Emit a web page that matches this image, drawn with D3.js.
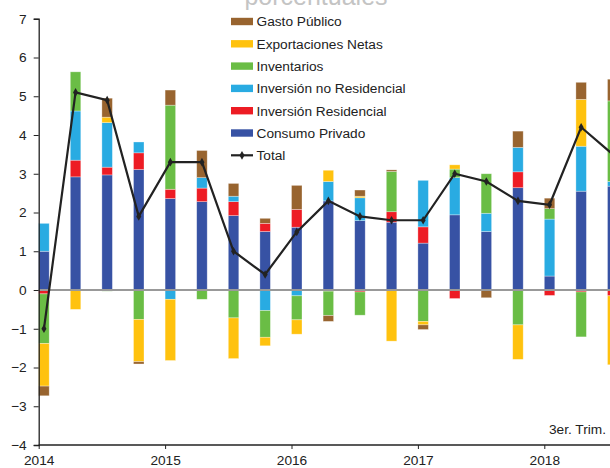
<!DOCTYPE html>
<html>
<head>
<meta charset="utf-8">
<script src="https://cdn.jsdelivr.net/npm/d3@7"></script>
<style>
  body { margin: 0; background: #fff; }
  svg { display: block; font-family: "Liberation Sans", Arial, sans-serif; }
</style>
</head>
<body>
<svg id="chart" width="610" height="468"></svg>
<script>
// trimestres 2014T1 .. 2018T3
const periods = ["2014-1","2014-2","2014-3","2014-4","2015-1","2015-2","2015-3","2015-4",
                 "2016-1","2016-2","2016-3","2016-4","2017-1","2017-2","2017-3","2017-4",
                 "2018-1","2018-2","2018-3"];

const consumo       = [1.00, 2.92, 2.97, 3.11, 2.36, 2.28, 1.92, 1.51, 1.62, 2.30, 1.79, 1.75, 1.21, 1.94, 1.51, 2.64, 0.36, 2.55, 2.68];
const invResid      = [-0.10, 0.43, 0.20, 0.43, 0.24, 0.35, 0.36, 0.21, 0.46, -0.03, -0.05, 0.27, 0.42, -0.22, 0.00, 0.41, -0.14, -0.05, -0.15];
const invNoResid    = [0.72, 1.27, 1.15, 0.28, -0.24, 0.27, 0.14, -0.53, -0.15, 0.50, 0.59, 0.00, 1.20, 0.96, 0.47, 0.63, 1.47, 1.16, 0.12];
const inventarios   = [-1.28, 1.01, -0.03, -0.76, 2.17, -0.24, -0.72, -0.69, -0.62, -0.63, -0.60, 1.04, -0.81, 0.22, 1.02, -0.90, 0.27, -1.16, 2.08];
const exportaciones = [-1.10, -0.50, 0.14, -1.09, -1.58, 0.00, -1.05, -0.22, -0.37, 0.29, 0.04, -1.32, -0.09, 0.11, 0.00, -0.89, 0.00, 1.21, -1.78];
const gasto         = [-0.25, 0.00, 0.49, -0.06, 0.39, 0.70, 0.33, 0.13, 0.62, -0.15, 0.16, 0.04, -0.12, 0.00, -0.20, 0.42, 0.27, 0.44, 0.56];
const total         = [-1.0, 5.1, 4.9, 1.9, 3.3, 3.3, 1.0, 0.4, 1.5, 2.3, 1.9, 1.8, 1.8, 3.0, 2.8, 2.3, 2.2, 4.2, 3.5];

const seriesNames = ["Consumo Privado", "Inversión Residencial", "Inversión no Residencial",
                     "Inventarios", "Exportaciones Netas", "Gasto Público"];
const seriesValues = [consumo, invResid, invNoResid, inventarios, exportaciones, gasto];
const colors = ["#3752a4", "#ed1c24", "#29abe2", "#6abd45", "#ffc20e", "#98642f"];

const yTicks = [-4, -3, -2, -1, 0, 1, 2, 3, 4, 5, 6, 7];
const yearTicks = [2014, 2015, 2016, 2017, 2018];

const svg = d3.select("#chart");
const barW = 10.5;
const fs = 13.7;

const rows = periods.map((p, i) => {
    const [yr, q] = p.split("-").map(Number);
    const r = {t: yr + (q - 1) / 4, total: total[i]};
    seriesNames.forEach((k, j) => r[k] = seriesValues[j][i]);
    return r;
});

const x = d3.scaleLinear().domain([2014, 2018]).range([38.7, 544.3]);
const y = d3.scaleLinear().domain([-4, 7]).range([445, 18.75]);

// titulo (cortado arriba como en el original)
svg.append("text")
    .attr("x", 316).attr("y", 5)
    .attr("text-anchor", "middle")
    .attr("font-size", 25)
    .attr("fill", "#c4c4c4")
    .text("porcentuales");

const stacked = d3.stack().keys(seriesNames).offset(d3.stackOffsetDiverging)(rows);

const gBars = svg.append("g");
stacked.forEach((s, j) => {
    gBars.append("g")
        .attr("fill", colors[j])
        .selectAll("rect")
        .data(s.filter(d => d[1] !== d[0]))
        .join("rect")
        .attr("x", d => x(d.data.t))
        .attr("width", barW)
        .attr("y", d => y(Math.max(d[0], d[1])))
        .attr("height", d => Math.abs(y(d[0]) - y(d[1])))
        .attr("stroke", "#fff")
        .attr("stroke-opacity", 0.45)
        .attr("stroke-width", 0.7);
});

// linea de cero
svg.append("line")
    .attr("x1", x(2014)).attr("x2", 610)
    .attr("y1", y(0)).attr("y2", y(0))
    .attr("stroke", "#999").attr("stroke-width", 2);

// eje y
const yAxis = svg.append("g")
    .attr("transform", `translate(${x(2014)},0)`)
    .call(d3.axisLeft(y).tickValues(yTicks).tickSize(5).tickPadding(7).tickFormat(d3.format("d")));
yAxis.select(".domain").attr("stroke", "#222").attr("stroke-width", 1.3);
yAxis.selectAll(".tick line").attr("stroke", "#222");
yAxis.selectAll("text").attr("font-size", fs).attr("fill", "#222").attr("font-family", "Liberation Sans, Arial, sans-serif");

// eje x
const xAxis = svg.append("g")
    .attr("transform", `translate(0,${y(-4)})`)
    .call(d3.axisBottom(x).tickValues(yearTicks).tickSize(4).tickPadding(6).tickFormat(d3.format("d")));
xAxis.select(".domain").remove();
xAxis.append("line")
    .attr("x1", x(2014)).attr("x2", 610)
    .attr("stroke", "#222").attr("stroke-width", 1.5);
xAxis.selectAll(".tick line").attr("stroke", "#222");
xAxis.selectAll("text").attr("font-size", fs).attr("fill", "#222").attr("font-family", "Liberation Sans, Arial, sans-serif");

// total
const cx = d => x(d.t) + barW / 2;
svg.append("path")
    .datum(rows)
    .attr("fill", "none")
    .attr("stroke", "#222")
    .attr("stroke-width", 2.2)
    .attr("d", d3.line().x(cx).y(d => y(d.total)));
svg.append("g").selectAll("path")
    .data(rows)
    .join("path")
    .attr("transform", d => `translate(${cx(d)},${y(d.total)})`)
    .attr("d", d3.symbol(d3.symbolDiamond, 22))
    .attr("fill", "#222");

svg.append("text")
    .attr("x", 606).attr("y", 434)
    .attr("text-anchor", "end")
    .attr("font-size", fs).attr("fill", "#222")
    .text("3er. Trim.");

// leyenda
const legendItems = seriesNames.map((n, j) => ({name: n, color: colors[j]})).reverse();
const lg = svg.append("g").attr("transform", "translate(231,21.5)");
legendItems.forEach((it, i) => {
    const row = lg.append("g").attr("transform", `translate(0,${i * 22.3})`);
    row.append("rect").attr("x", 0).attr("y", -3.7).attr("width", 22).attr("height", 7.4).attr("fill", it.color);
    row.append("text").attr("x", 25.5).attr("y", 4.8).attr("font-size", fs).attr("fill", "#222").text(it.name);
});
const tr = lg.append("g").attr("transform", `translate(0,${6 * 22.3})`);
tr.append("line").attr("x1", 0).attr("x2", 22).attr("stroke", "#222").attr("stroke-width", 2.2);
tr.append("path").attr("transform", "translate(11,0)").attr("d", d3.symbol(d3.symbolDiamond, 22)).attr("fill", "#222");
tr.append("text").attr("x", 25.5).attr("y", 4.8).attr("font-size", fs).attr("fill", "#222").text("Total");
</script>
</body>
</html>
